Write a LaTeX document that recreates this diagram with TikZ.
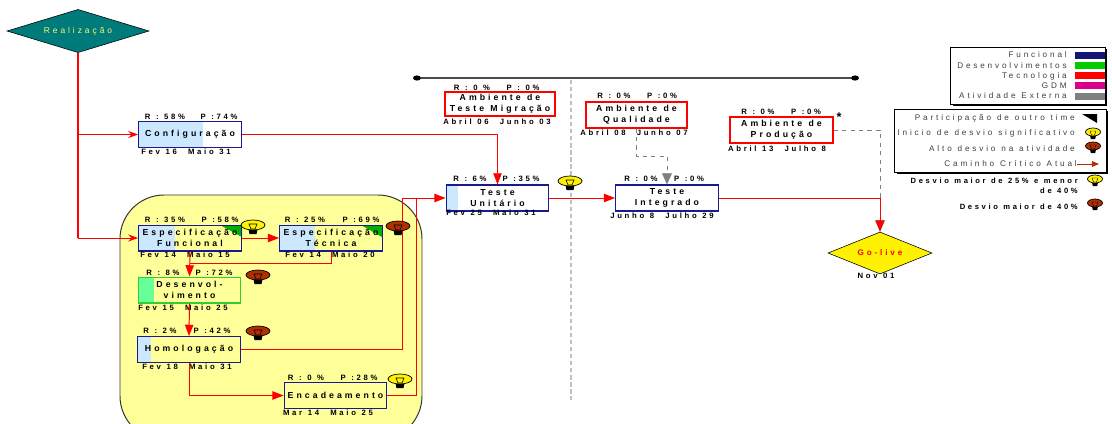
\documentclass[tikz,border=0pt]{standalone}
\usepackage{fontspec}
\setmainfont{Liberation Sans}
\newfontfamily\spacedfont[LetterSpace=35, WordSpace=1.15]{Liberation Sans}
\usetikzlibrary{arrows.meta, positioning, shapes.geometric, calc}

\definecolor{tealfill}{HTML}{007B7B}
\definecolor{donefill}{HTML}{CCE8FF}
\definecolor{devfill}{HTML}{66FF99}
\definecolor{devline}{HTML}{33CC33}
\definecolor{navyline}{HTML}{1A1A90}
\definecolor{bulbred}{HTML}{B03000}
\definecolor{padfill}{HTML}{FFFF99}

\tikzset{
  bulb/.pic={
    \fill[black] (-5,2) -- (5,2) -- (3.5,9) -- (-3.5,9) -- cycle;
    \draw[fill=#1, line width=0.5pt] (0,0) ellipse (12 and 5);
    \draw[black, line width=0.4pt] (-4,-1) -- (4,-1) -- (2,4) -- (-2,4) -- cycle;
  },
  smallbulb/.pic={
    \fill[black] (-3.5,1) -- (3.5,1) -- (2.2,7) -- (-2.2,7) -- cycle;
    \draw[fill=#1, line width=0.5pt] (0,0) ellipse (7.5 and 4);
    \draw[black, line width=0.3pt] (-3,-1) -- (3,-1) -- (1.5,3) -- (-1.5,3) -- cycle;
  }
}

\begin{document}
\begin{tikzpicture}[
    x=0.025cm, y=-0.025cm,
    taskbox/.style={draw=navyline, rectangle, line width=1pt, inner sep=0pt, align=center,
      minimum width=2.56cm, minimum height=0.64cm, font=\spacedfont\fontsize{6.2}{7.8}\selectfont\bfseries},
    envbox/.style={taskbox, draw=red},
    tag/.style={font=\spacedfont\fontsize{5.5}{6}\selectfont\bfseries, inner sep=0pt},
    legtext/.style={font=\spacedfont\fontsize{5.8}{6}\selectfont, text=black!75, inner sep=0pt, anchor=east},
    legbox/.style={draw=black, fill=white, line width=0.7pt, rectangle, inner sep=0pt},
    crit/.style={draw=red, line width=0.7pt},
    critarrow/.style={crit, -{Triangle[length=8pt, width=6pt]}},
    thinarrow/.style={crit, -{Stealth[length=7pt, width=5pt]}},
    extarrow/.style={draw=gray, dashed, line width=0.6pt, -{Triangle[length=8pt, width=7pt]}},
]
  \useasboundingbox (0,0) rectangle (1112,423);

  % Pad behind the sub-tasks
  \begin{scope}
    \clip (0,0) rectangle (1112,423);
    \draw[fill=padfill, draw=black!80, line width=0.7pt, rounded corners=1.1cm] (120,195) rectangle (422,440);
  \end{scope}

  % Time line and divider
  \node[fill=black, ellipse, minimum width=0.2cm, minimum height=0.13cm, inner sep=0pt] (linestart) at (417,78) {};
  \node[fill=black, ellipse, minimum width=0.2cm, minimum height=0.13cm, inner sep=0pt] (lineend) at (855,78) {};
  \draw[black!70, line width=0.9pt] (linestart) -- (lineend);
  \coordinate (dividertop) at (571,80);
  \coordinate (dividerbottom) at (571,400);
  \draw[black!25, densely dashed, line width=0.8pt] (dividertop) -- (dividerbottom);

  % Progress fills
  \fill[donefill] (139,122) rectangle (203,147);
  \fill[donefill] (138,225) rectangle (175,251);
  \fill[donefill] (280,225) rectangle (315,251);
  \fill[devfill] (138,277) rectangle (154,303);
  \fill[donefill] (138,337) rectangle (151,362);
  \fill[donefill] (446,185) rectangle (458,211);
  \fill[green!70!black] (220,225) -- (242,225) -- (242,237) -- cycle;
  \fill[green!70!black] (361,225) -- (382,225) -- (382,237) -- cycle;

  % Start
  \node[diamond, draw=black, fill=tealfill, aspect=3.3, minimum width=3.55cm, minimum height=1.08cm, inner sep=0pt,
    text=yellow!60!white, font=\spacedfont\fontsize{6}{6}\selectfont] (start) at (78,31) {Realização};

  % Tasks
  \node[taskbox] (config) at (190,134.5) {Configuração};
  \node[taskbox] (funcional) at (190,238) {Especificação\\Funcional};
  \node[taskbox] (tecnica) at (331,238) {Especificação\\Técnica};
  \node[taskbox, draw=devline] (desenv) at (189.5,290) {Desenvol-\\vimento};
  \node[taskbox] (homolog) at (189,349.5) {Homologação};
  \node[taskbox] (encad) at (335.5,395.5) {Encadeamento};
  \node[taskbox] (unitario) at (497.5,198) {Teste\\Unitário};
  \node[taskbox] (integrado) at (667,198) {Teste\\Integrado};
  \node[envbox, minimum width=2.75cm, minimum height=0.6cm] (migracao) at (500,104) {Ambiente de\\Teste Migração};
  \node[envbox, minimum width=2.52cm] (qualidade) at (636.5,115) {Ambiente de\\Qualidade};
  \node[envbox, minimum width=2.57cm] (producao) at (781.5,130) {Ambiente de\\Produção};
  \node[diamond, draw=black, fill=yellow, aspect=2.5, minimum width=2.6cm, minimum height=1.05cm, inner sep=0pt,
    text=red, font=\spacedfont\fontsize{5.8}{6}\selectfont\bfseries] (golive) at (880,253) {Go-live};

  % R / P / dates
  \node[tag] (configR) at (165,117) {R : 58\%};
  \node[tag] (configP) at (219,117) {P :74\%};
  \node[tag] (configD) at (186,152) {Fev 16\ \ Maio 31};
  \node[tag] (funcionalR) at (165,220) {R : 35\%};
  \node[tag] (funcionalP) at (220,220) {P :58\%};
  \node[tag] (funcionalD) at (185,255) {Fev 14\ \ Maio 15};
  \node[tag] (tecnicaR) at (305,220) {R : 25\%};
  \node[tag] (tecnicaP) at (361,220) {P :69\%};
  \node[tag] (tecnicaD) at (330,255) {Fev 14\ \ Maio 20};
  \node[tag] (desenvR) at (163,273) {R : 8\%};
  \node[tag] (desenvP) at (214,273) {P :72\%};
  \node[tag] (desenvD) at (183,308) {Fev 15\ \ Maio 25};
  \node[tag] (homologR) at (160,331) {R : 2\%};
  \node[tag] (homologP) at (212,331) {P :42\%};
  \node[tag] (homologD) at (187,367) {Fev 18\ \ Maio 31};
  \node[tag] (encadR) at (306,378) {R : 0 \%};
  \node[tag] (encadP) at (359,378) {P :28\%};
  \node[tag] (encadD) at (328,413) {Mar 14\ \ Maio 25};
  \node[tag] (unitarioR) at (470,179) {R : 6\%};
  \node[tag] (unitarioP) at (521,179) {P :35\%};
  \node[tag] (unitarioD) at (491,213) {Fev 25\ \ Maio 31};
  \node[tag] (integradoR) at (641,179) {R : 0\%};
  \node[tag] (integradoP) at (689,179) {P :0\%};
  \node[tag] (integradoD) at (662,216) {Junho 8\ \ Julho 29};
  \node[tag] (migracaoR) at (472,88) {R : 0 \%};
  \node[tag] (migracaoP) at (523,88) {P : 0\%};
  \node[tag] (migracaoD) at (497,122) {Abril 06\ \ Junho 03};
  \node[tag] (qualidadeR) at (614,96) {R : 0\%};
  \node[tag] (qualidadeP) at (662,96) {P :0\%};
  \node[tag] (qualidadeD) at (634,133) {Abril 08\ \ Junho 07};
  \node[tag] (producaoR) at (758,112) {R : 0\%};
  \node[tag] (producaoP) at (806,112) {P :0\%};
  \node[tag] (producaoD) at (777,149) {Abril 13\ \ Julho 8};
  \node[tag, font=\fontsize{9}{9}\selectfont\bfseries] (producaoS) at (839,117) {*};
  \node[tag] (goliveD) at (876,276) {Nov 01};

  % Connectors
  \coordinate (merge) at (190,263);
  \coordinate (joinA) at (402,198);
  \coordinate (joinB) at (416,198);
  \coordinate (bendQ) at (667,156);
  \draw[extarrow] (qualidade.south) |- (bendQ) -- (integrado.north);
  \draw[extarrow] (producao.east) -| (golive.north);
  \draw[crit, line width=1.2pt] (start.south) -- (start.south |- funcional.west);
  \draw[thinarrow] (start.south |- config.west) -- (config.west);
  \draw[thinarrow] (start.south |- funcional.west) -- (funcional.west);
  \draw[critarrow] (config.east) -| (unitario.north);
  \draw[critarrow] (funcional.east) -- (tecnica.west);
  \draw[critarrow] (funcional.south) -- (desenv.north);
  \draw[crit] (tecnica.south) |- (merge);
  \draw[critarrow] (desenv.south) -- (homolog.north);
  \draw[critarrow] (homolog.south) |- (encad.west);
  \draw[crit] (homolog.east) -| (joinA);
  \draw[crit] (encad.east) -| (joinB);
  \draw[critarrow] (joinA) -- (unitario.west);
  \draw[critarrow] (unitario.east) -- (integrado.west);
  \draw[critarrow] (integrado.east) -| (golive.north);

  % Bulbs
  \pic at (253,225) {bulb=yellow};
  \pic at (398,226) {bulb=bulbred};
  \pic at (258,275) {bulb=bulbred};
  \pic at (258,331) {bulb=bulbred};
  \pic at (400,379) {bulb=yellow};
  \pic at (570,181) {bulb=yellow};

  % Legend of teams
  \fill[black] (953,49) rectangle (1107,106);
  \node[legbox, minimum width=3.85cm, minimum height=1.425cm] (teams) at (1028,75.5) {};
  \fill[navyline!80!black] (1075,52) rectangle (1105,59);
  \fill[green!80!black] (1075,62) rectangle (1105,69);
  \fill[red] (1075,72) rectangle (1105,79);
  \fill[purple!60!magenta] (1075,82) rectangle (1105,89);
  \fill[gray] (1075,93) rectangle (1105,100);
  \node[legtext] (teamF) at (1067,55) {Funcional};
  \node[legtext] (teamD) at (1067,66) {Desenvolvimentos};
  \node[legtext] (teamT) at (1067,76) {Tecnologia};
  \node[legtext] (teamG) at (1067,86) {GDM};
  \node[legtext] (teamA) at (1067,96) {Atividade Externa};

  % Legend of marks
  \fill[black] (897,111) rectangle (1108,174);
  \node[legbox, minimum width=5.275cm, minimum height=1.575cm] (marks) at (1000.5,140.5) {};
  \node[legtext] (markP) at (1075,118) {Participação de outro time};
  \node[legtext] (markI) at (1075,133) {Inicio de desvio significativo};
  \node[legtext] (markA) at (1075,149) {Alto desvio na atividade};
  \node[legtext] (markC) at (1077,164) {Caminho Crítico Atual};
  \fill[black] (1082,114) -- (1097,114) -- (1097,123) -- cycle;
  \pic at (1093,132) {smallbulb=yellow};
  \pic at (1093,146) {smallbulb=bulbred};
  \coordinate (markend) at (1099,164);
  \draw[bulbred, line width=0.7pt, -{Triangle[length=5pt, width=4pt]}] (markC.east) -- (markend);

  % Notes under the legend
  \node[legtext, text=black, align=right, font=\spacedfont\fontsize{5.4}{7.2}\selectfont\bfseries] (noteA) at (1078,186) {Desvio maior de 25\% e menor\\de 40\%};
  \node[legtext, text=black, font=\spacedfont\fontsize{5.4}{6}\selectfont\bfseries] (noteB) at (1078,207) {Desvio maior de 40\%};
  \pic at (1095,179) {smallbulb=yellow};
  \pic at (1095,203) {smallbulb=bulbred};
\end{tikzpicture}
\end{document}
